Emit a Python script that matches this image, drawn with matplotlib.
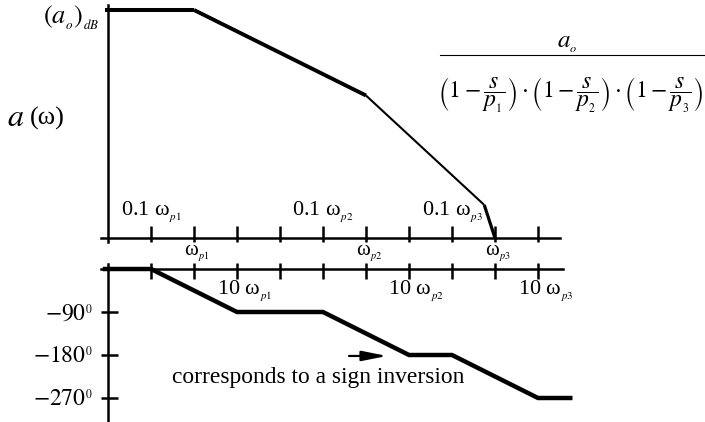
import matplotlib.pyplot as plt
from matplotlib.lines import Line2D

plt.rcParams['font.family'] = ['Liberation Serif', 'DejaVu Serif']
plt.rcParams['mathtext.fontset'] = 'stix'

# frequency axis: one tick per unit (schematic log scale)
freq_ticks = [1, 2, 3, 4, 5, 6, 7, 8, 9, 10]

# asymptotic magnitude (dB) and phase (deg)
mag_u = [-0.07, 2, 6, 8.75, 9]
mag_db = [60, 60, 37.5, 8.7, 0]
phase_u = [-0.07, 1, 3, 5, 7, 8, 10, 10.75]
phase_deg = [0, 0, -90, -90, -180, -180, -270, -270]

phase_ticks = [-90, -180, -270]
phase_labels = [r'$-90^{_0}$', r'$-180^{_0}$', r'$-270^{_0}$']

# tick labels above / below the magnitude axis and below the phase axis
tenth_u = [1, 5, 8]
tenth_labels = [r'0.1 ω$_{_{p1}}$', r'0.1 ω$_{_{p2}}$', r'0.1 ω$_{_{p3}}$']
pole_u = [2, 6, 9]
pole_labels = [r'ω$_{_{p1}}$', r'ω$_{_{p2}}$', r'ω$_{_{p3}}$']
ten_u = [3, 7, 10]
ten_labels = [r'10 ω$_{_{p1}}$', r'10 ω$_{_{p2}}$', r'10 ω$_{_{p3}}$']

W, H = 705, 422
fig = plt.figure(figsize=(W / 100, H / 100), dpi=100)

# pixel layout helpers
x0, dx = 108, 43.0          # pixel of u=0 and pixels per unit
mag_y0, mag_k = 238, 3.8    # pixel of 0 dB, pixels per dB
ph_y0, ph_k = 269, 43 / 90  # pixel of 0 deg, pixels per deg

ax_mag = fig.add_axes([0, 0, 1, 1])
ax_ph = fig.add_axes([0, 0, 1, 1])
for ax in (ax_mag, ax_ph):
    ax.set_xlim(-x0 / dx, (W - x0) / dx)
    ax.axis('off')
    ax.patch.set_alpha(0)
ax_mag.set_ylim((mag_y0 - H) / mag_k, mag_y0 / mag_k)
ax_ph.set_ylim((ph_y0 - H) / ph_k, ph_y0 / ph_k)

def px_u(px):
    return (px - x0) / dx

# magnitude axes
ax_mag.plot([px_u(101), px_u(560)], [0, 0], color='k', lw=1.8)
ax_mag.plot([0, 0], [(mag_y0 - 5) / mag_k, (mag_y0 - 242) / mag_k], color='k', lw=1.8)
ax_mag.vlines(freq_ticks, -4 / mag_k, 12 / mag_k, color='k', lw=1.8)

mag_widths = [2.9, 2.8, 1.5, 2.3]
for i in range(len(mag_u) - 1):
    ax_mag.plot(mag_u[i:i + 2], mag_db[i:i + 2], color='k', lw=mag_widths[i],
                solid_capstyle='butt')

for u, s in zip(tenth_u, tenth_labels):
    ax_mag.text(u, (mag_y0 - 212) / mag_k, s, ha='center', va='center', fontsize=16)
for u, s in zip(pole_u, pole_labels):
    ax_mag.text(u + 0.07, (mag_y0 - 253) / mag_k, s, ha='center', va='center', fontsize=15)

ax_mag.text(px_u(99), (mag_y0 - 18) / mag_k, r'$(a_{_o})_{_{dB}}$', ha='right', va='center',
            fontsize=19)
ax_mag.text(px_u(7), (mag_y0 - 119) / mag_k, r'$a$', ha='left', va='center', fontsize=23)
ax_mag.text(px_u(30), (mag_y0 - 118) / mag_k, '(ω)', ha='left', va='center', fontsize=19)

# transfer function
fig.text(567 / W, 1 - 44 / H, r'$a_{_o}$', ha='center', va='center', fontsize=18)
fig.add_artist(Line2D([440 / W, 1], [1 - 55 / H] * 2, transform=fig.transFigure,
                      color='k', lw=0.8))
fig.text(571 / W, 1 - 95 / H,
         r'$\left(1-\dfrac{s}{p_{_1}}\right)\cdot\left(1-\dfrac{s}{p_{_2}}\right)'
         r'\cdot\left(1-\dfrac{s}{p_{_3}}\right)$',
         ha='center', va='center', fontsize=17)

# phase axes
ax_ph.plot([px_u(101), px_u(563)], [0, 0], color='k', lw=1.8)
ax_ph.plot([0, 0], [(ph_y0 - 264) / ph_k, (ph_y0 - H) / ph_k], color='k', lw=1.8)
ax_ph.vlines(freq_ticks, -10 / ph_k, 6 / ph_k, color='k', lw=1.8)
ax_ph.hlines(phase_ticks, px_u(101), px_u(118), color='k', lw=1.8)
for d, s in zip(phase_ticks, phase_labels):
    ax_ph.text(px_u(93), d - 4, s, ha='right', va='center', fontsize=17)

ax_ph.plot(phase_u, phase_deg, color='k', lw=3.2, solid_joinstyle='miter')

for u, s in zip(ten_u, ten_labels):
    ax_ph.text(u + 0.17, (ph_y0 - 291) / ph_k, s, ha='center', va='center', fontsize=16)

ax_ph.annotate('', xy=(px_u(387), -182), xytext=(px_u(349), -182),
               arrowprops=dict(arrowstyle='-|>,head_length=1.5,head_width=0.3',
                               mutation_scale=10, lw=1.6, color='k',
                               shrinkA=0, shrinkB=0))
ax_ph.text(px_u(172), (ph_y0 - 378) / ph_k, 'corresponds to a sign inversion',
           ha='left', va='center', fontsize=16.9)

fig.savefig('out.png', dpi=100)
